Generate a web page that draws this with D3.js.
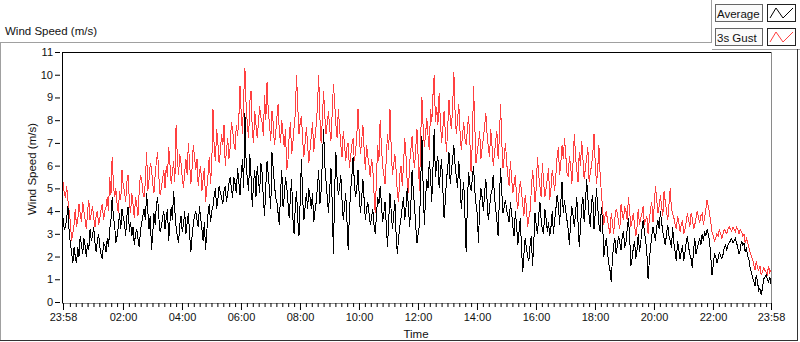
<!DOCTYPE html>
<html>
<head>
<meta charset="utf-8">
<script src="https://cdn.jsdelivr.net/npm/d3@7"></script>
<style>
  body { margin: 0; background: #fff; }
  svg text { font-family: "Liberation Sans", Arial, sans-serif; fill: #111; }
</style>
</head>
<body>
<svg id="chart" width="800" height="342"></svg>
<script>
// one sample every 2.5 minutes, starting 23:58
const startTime = "23:58";
const stepMinutes = 2.5;

// 3 s gust (m/s)
const gust = [
  5.3,4.8,4.6,5.1,4.5,4.0,3.5,2.7,3.0,3.4, 4.1,3.3,3.6,4.3,3.9,3.5,4.4,4.0,3.6,3.2,
  4.0,4.5,3.6,3.9,4.2,3.7,3.3,3.8,4.0,3.4, 3.7,4.1,4.3,3.6,4.0,4.2,4.6,4.0,5.5,4.7,
  6.4,5.2,4.6,5.0,4.3,3.9,4.9,4.5,5.8,5.1, 4.9,4.4,5.3,5.6,4.4,3.9,4.8,4.3,3.7,4.6,
  4.3,3.8,4.9,5.6,5.4,4.8,4.6,5.3,6.6,4.9, 5.4,6.1,5.9,5.2,4.8,5.6,6.2,6.6,5.5,4.7,
  5.0,5.4,5.8,5.0,6.0,5.5,6.8,6.1,5.2,5.7, 6.2,5.3,7.8,6.4,5.6,6.5,6.1,
  5.5,5.0,5.7,6.3,5.6,7.0,6.1,5.2,5.9,6.9, 6.4,5.8,6.3,5.1,5.7,6.0,4.9,5.4,5.9,4.4,
  5.0,5.6,6.4,5.2,6.0,8.5,6.8,6.2,7.6,7.0, 6.1,6.6,7.4,6.9,7.8,6.0,6.7,7.2,6.3,6.8,
  7.9,7.6,7.0,6.7,7.8,7.3,8.0,9.5,8.3,7.4, 9.0,10.3,8.6,7.8,7.2,8.8,9.3,7.5,7.0,8.4,
  7.8,7.2,7.9,8.6,8.1,7.9,7.3,9.1,8.0,9.7, 8.4,7.8,7.1,8.4,7.9,6.9,7.4,8.1,8.7,7.5,
  7.0,8.0,7.4,6.8,7.6,5.8,6.2,7.3,7.9,6.5, 7.0,7.7,8.3,10.0,8.6,7.4,7.9,8.2,
  7.1,6.4,7.0,7.7,6.9,6.1,6.7,7.3,7.9,6.6, 7.2,7.8,8.6,10.0,8.1,7.0,8.0,9.3,8.2,7.4,
  7.9,8.4,7.6,7.1,8.3,9.6,8.8,7.8,7.2,8.5, 7.7,6.9,6.4,7.5,7.0,6.2,6.8,7.0,5.9,6.4,
  6.9,7.2,6.2,6.6,7.3,8.5,7.4,6.5,7.1,7.8, 6.7,5.8,6.9,6.4,6.0,5.5,6.3,5.9,4.8,3.9,
  5.4,6.9,6.2,8.0,6.9,6.0,5.6,5.2,6.3,7.4, 6.7,8.5,6.8,5.6,6.0,6.5,5.8,4.8,4.4,5.6,
  6.0,5.1,6.0,7.2,6.5,5.3,4.8,6.1,6.7,7.3, 6.4,5.9,6.8,7.6,6.3,4.9,7.2,9.0,
  7.7,6.8,7.4,8.1,7.3,6.7,8.5,7.9,9.1,10.0, 7.9,8.6,7.8,9.2,8.0,7.0,7.6,8.4,7.5,6.6,
  7.7,8.9,8.1,7.6,8.6,10.1,8.3,7.4,8.0,8.7, 7.5,6.7,7.3,7.9,7.2,6.9,7.6,8.2,7.1,5.7,
  7.0,9.5,7.8,6.1,6.6,7.0,7.5,6.3,6.8,7.2, 7.7,8.3,7.4,6.8,6.4,7.6,6.9,6.0,6.5,7.1,
  7.5,6.3,7.2,8.7,7.0,5.9,6.4,7.0,6.1,5.5, 5.1,6.2,5.4,4.8,5.2,5.6,4.6,4.1,4.8,5.3,
  4.9,4.3,3.8,4.7,4.2,3.3,3.7,4.0,4.9,5.8, 5.2,4.4,5.0,6.4,5.6,5.1,
  4.6,6.1,5.3,4.6,5.0,5.4,5.9,4.5,5.0,5.8, 5.4,4.9,5.6,6.4,6.8,5.6,6.1,6.9,6.3,7.2,
  6.5,5.7,5.5,6.4,6.0,5.2,6.2,7.4,6.4,5.8, 5.3,6.6,6.0,7.1,6.3,5.4,5.9,6.3,6.8,5.3,
  5.7,6.0,6.5,7.4,6.1,5.2,5.8,6.9,5.6,4.8, 4.1,3.4,3.8,4.0,3.6,3.3,3.0,3.9,3.5,3.0,
  3.7,4.1,3.9,3.5,3.2,4.3,3.9,3.6,4.2,4.0, 3.6,4.6,4.0,3.3,3.6,3.9,3.4,2.9,3.3,4.1,
  3.4,3.7,3.9,4.2,3.4,3.6,3.8,3.0,3.6,4.1, 4.4,3.5,4.2,5.1,4.5,3.9,4.2,4.7,
  4.2,3.8,4.9,4.4,4.0,3.6,4.3,5.0,4.1,3.9, 3.7,3.4,3.2,3.8,3.5,3.1,3.4,3.6,3.0,3.2,
  3.5,3.9,3.6,3.3,3.9,3.7,3.2,3.4,3.7,4.0, 3.7,3.5,3.8,3.9,3.4,3.7,4.1,4.5,4.2,3.9,
  3.5,3.1,2.9,2.7,2.8,3.0,2.9,3.2,3.0,2.8, 3.0,3.2,3.1,3.0,3.2,3.3,3.2,3.1,3.3,3.2,
  3.1,3.3,3.2,3.0,3.2,3.1,2.9,3.0,2.6,2.8, 2.6,2.4,2.2,2.0,1.9,1.6,1.4,1.8,1.5,1.4,
  1.6,1.2,1.3,1.5,1.4,1.3,1.2,1.6,1.3,1.4
];

// average wind speed (m/s)
const average = [
  3.7,3.2,3.3,3.7,4.2,3.1,2.6,2.2,1.7,2.4, 2.0,1.7,2.4,2.0,2.9,2.5,2.1,2.8,2.5,2.0,
  2.6,2.3,3.2,2.7,2.9,3.3,2.6,2.2,2.7,3.0, 2.4,2.1,1.9,2.6,2.5,2.2,2.8,2.4,3.2,3.6,
  4.6,3.7,3.4,2.6,2.9,3.3,3.9,3.2,4.1,3.7, 3.5,2.9,3.8,4.2,3.1,3.5,2.9,3.3,2.5,3.0,
  3.2,2.8,2.4,3.1,3.5,3.8,4.1,3.6,4.8,4.0, 3.2,3.8,2.3,3.0,3.9,3.4,4.3,4.6,3.7,3.1,
  3.3,3.7,4.0,3.2,3.7,4.1,2.7,3.5,4.2,3.6, 4.9,4.0,3.3,2.9,2.6,3.4,3.8,
  3.1,3.4,4.0,3.0,3.5,3.9,3.0,2.2,2.9,3.4, 3.8,4.0,3.6,3.3,4.2,3.7,3.2,2.7,3.5,2.3,
  3.1,3.9,4.3,3.5,4.0,4.2,4.7,5.0,4.1,4.5, 5.1,4.8,4.6,4.3,4.9,5.1,4.4,4.8,5.2,5.5,
  5.0,4.6,5.5,5.2,4.8,5.9,5.3,4.7,5.6,6.3, 5.0,8.3,6.1,5.4,4.9,6.5,5.5,4.2,5.2,5.8,
  4.6,6.0,5.4,4.8,6.1,5.7,4.5,3.8,5.1,6.2, 5.6,4.9,4.1,6.6,5.9,5.2,4.6,4.4,3.9,3.4,
  4.8,5.8,4.2,4.6,5.5,5.1,4.4,3.7,4.6,5.4, 3.7,3.0,4.2,4.9,3.6,2.9,4.5,6.3,
  4.5,3.6,4.2,4.8,4.1,5.0,4.6,4.1,4.8,3.5, 4.0,4.4,5.1,5.8,4.3,4.9,6.2,7.6,6.0,5.3,
  4.6,3.9,5.0,5.9,4.4,2.1,4.9,6.6,5.4,4.7, 5.0,5.6,4.5,3.6,4.2,4.8,3.6,2.3,3.9,4.9,
  5.5,6.4,5.3,4.6,5.0,5.8,4.7,3.9,4.6,5.4, 4.5,3.6,4.1,4.4,3.9,3.4,3.7,4.1,3.4,3.0,
  3.8,4.6,4.3,5.1,4.4,3.5,3.9,4.4,3.4,2.4, 3.6,4.8,4.0,3.2,3.8,4.5,3.0,2.1,2.8,3.3,
  3.7,4.2,4.6,3.6,4.1,5.0,4.2,3.3,4.3,5.8, 4.9,4.2,3.3,2.6,3.0,3.4,5.2,7.3,
  5.1,3.4,4.6,5.4,5.0,6.2,5.6,4.4,5.9,7.6, 5.5,6.1,6.4,5.0,5.7,6.3,5.0,3.7,4.4,5.4,
  5.9,6.6,5.2,5.8,6.3,6.9,6.0,5.5,5.0,6.2, 5.4,4.1,4.7,5.3,3.8,2.2,4.4,5.7,5.2,4.9,
  5.4,6.0,4.9,4.3,3.9,2.6,4.3,5.0,4.6,4.0, 4.8,5.4,4.5,3.6,4.1,4.7,4.9,5.6,4.7,4.1,
  3.6,2.9,4.5,5.9,4.8,3.9,4.2,4.5,4.0,3.8, 3.5,4.4,3.9,3.3,2.9,4.0,3.4,2.5,3.1,3.7,
  2.4,1.3,2.1,2.8,2.4,2.0,1.8,2.5,2.9,1.6, 2.6,3.9,3.4,3.0,3.8,4.4,
  3.6,3.2,3.0,4.1,3.7,3.1,3.5,2.9,3.3,4.0, 3.0,3.6,4.1,4.7,4.3,3.4,4.4,5.3,3.9,4.5,
  4.0,3.6,3.2,2.5,3.6,4.2,3.8,3.3,3.9,4.6, 3.5,2.4,3.3,4.2,4.6,3.5,4.3,5.4,4.6,3.8,
  3.3,4.4,4.7,3.2,3.9,5.0,4.2,3.4,3.1,4.2, 3.5,2.0,2.5,2.8,2.2,1.7,1.4,0.9,1.9,2.5,
  2.8,2.1,2.5,2.9,2.6,2.3,2.9,3.1,2.4,2.6, 3.2,3.7,2.9,1.6,1.9,2.4,2.7,1.9,2.3,3.0,
  2.2,2.6,3.2,3.6,3.1,2.7,2.2,1.0,1.8,2.4, 2.9,3.3,3.0,2.7,3.3,3.6,3.2,4.0,
  3.5,3.1,2.8,2.5,3.0,3.4,2.9,2.7,2.4,3.3, 2.6,2.2,1.8,2.7,2.3,1.9,2.2,2.5,1.8,2.2,
  2.6,2.9,2.4,2.1,1.9,1.5,2.3,2.8,2.1,2.4, 2.6,2.8,2.5,3.0,2.7,3.1,2.9,3.2,3.0,2.7,
  2.0,1.2,1.6,2.1,2.0,1.7,1.9,2.2,2.0,1.9, 2.1,2.4,2.5,2.3,2.5,2.6,2.7,2.8,2.6,2.7,
  2.8,2.6,2.4,2.1,2.3,2.7,2.5,2.6,2.2,2.4, 2.0,1.9,1.5,1.3,1.1,0.9,0.7,1.2,0.9,0.5,
  0.6,0.3,0.6,1.0,1.1,1.2,1.0,0.9,1.1,0.8
];

const yTicks = [0,1,2,3,4,5,6,7,8,9,10,11];
const xTickLabels = ["23:58","02:00","04:00","06:00","08:00","10:00","12:00",
                     "14:00","16:00","18:00","20:00","22:00","23:58"];
const minorStep = 12; // minutes between small ticks

const seriesNames = ["Average", "3s Gust"];
const seriesColors = ["#000000", "#ff4040"];

const svg = d3.select("#chart");
const font = '"Liberation Sans", Arial, sans-serif';

// minutes since the start of the window
function toMin(label) {
  const [h, m] = label.split(":").map(Number);
  const [h0, m0] = startTime.split(":").map(Number);
  return ((h * 60 + m) - (h0 * 60 + m0) + 1440) % 1440;
}
const span = 24 * 60;
const majorMins = xTickLabels.map((l, i) => i === xTickLabels.length - 1 ? span : toMin(l));

const x = d3.scaleLinear().domain([0, span]).range([63, 771]);
const y = d3.scaleLinear().domain([0, 11]).range([302, 52]);

// outer frame of the control
const frame = svg.append("g").attr("fill", "none").attr("shape-rendering", "crispEdges");
frame.append("path").attr("d", "M0.5,341 V42.5 H711.5 V0").attr("stroke", "#a0a0a0");
frame.append("path").attr("d", "M711.5,49.5 H800").attr("stroke", "#a0a0a0");
frame.append("path").attr("d", "M0,340.5 H797.5 V49").attr("stroke", "#333");

svg.append("text").attr("x", 5).attr("y", 35)
  .style("font-size", "11.5px").text("Wind Speed (m/s)");

// plot area
svg.append("rect").attr("x", 62).attr("y", 52).attr("width", 710).attr("height", 251).attr("fill", "#fff");

const line = d3.line()
  .x((d, i) => x(i * stepMinutes))
  .y(d => y(d));

// gust underneath, average on top; aliased 1px lines like the original
const plot = svg.append("g").attr("shape-rendering", "crispEdges");
[[gust, 1], [average, 0]].forEach(([vals, k]) => {
  plot.append("path").datum(vals)
    .attr("fill", "none")
    .attr("stroke", seriesColors[k])
    .attr("stroke-width", 1)
    .attr("d", line);
});

// plot borders
const pb = svg.append("g").attr("fill", "none").attr("shape-rendering", "crispEdges");
pb.append("path").attr("d", "M62.5,303 V52.5 H772").attr("stroke", "#000");
pb.append("path").attr("d", "M62,303.5 H771.5 V52").attr("stroke", "#8a8a8a");

// y axis
const yAxis = svg.append("g").attr("transform", "translate(60,0)")
  .call(d3.axisLeft(y).tickValues(yTicks).tickSize(5).tickPadding(2).tickFormat(d3.format("d")));
yAxis.select(".domain").remove();
yAxis.selectAll("line").attr("stroke", "#000");
yAxis.selectAll("text").style("font-size", "11px").style("font-family", font).attr("fill", "#111");

svg.append("text")
  .attr("transform", "translate(36,169) rotate(-90)")
  .attr("text-anchor", "middle")
  .style("font-size", "11.5px")
  .text("Wind Speed (m/s)");

// x axis: small ticks every 12 min of clock time, then labelled ticks
const minorMins = d3.range(0, 1440, minorStep)
  .map(m => (m + toMin("00:00")) % 1440)
  .filter(v => majorMins.every(t => Math.abs(t - v) > 4));

const xMinor = svg.append("g").attr("transform", "translate(0,303)")
  .call(d3.axisBottom(x).tickValues(minorMins).tickSize(4).tickFormat(""));
xMinor.select(".domain").remove();
xMinor.selectAll("line").attr("stroke", "#000");

const xAxis = svg.append("g").attr("transform", "translate(0,303)")
  .call(d3.axisBottom(x).tickValues(majorMins).tickSize(7).tickPadding(3)
    .tickFormat((d, i) => xTickLabels[i]));
xAxis.select(".domain").remove();
xAxis.selectAll("line").attr("stroke", "#000");
xAxis.selectAll("text").style("font-size", "11px").style("font-family", font).attr("fill", "#111");

svg.append("text").attr("x", 416).attr("y", 338)
  .attr("text-anchor", "middle")
  .style("font-size", "11.5px")
  .text("Time");

// legend
const legend = svg.append("g");
seriesNames.forEach((name, i) => {
  const row = legend.append("g").attr("transform", `translate(715,${4 + i * 24})`);
  row.append("rect").attr("x", 0.5).attr("y", 0.5).attr("width", 47).attr("height", 17)
    .attr("fill", "#fafafa").attr("stroke", "#666");
  row.append("text").attr("x", 2).attr("y", 13.5)
    .style("font-size", "11.5px").text(name);
  row.append("rect").attr("x", 52.5).attr("y", 0.5).attr("width", 28).attr("height", 17)
    .attr("fill", "#fff").attr("stroke", "#222");
  row.append("polyline")
    .attr("points", "55,14 61,4 68,14 78,4")
    .attr("fill", "none").attr("stroke", seriesColors[i]).attr("stroke-width", 1);
});
</script>
</body>
</html>
